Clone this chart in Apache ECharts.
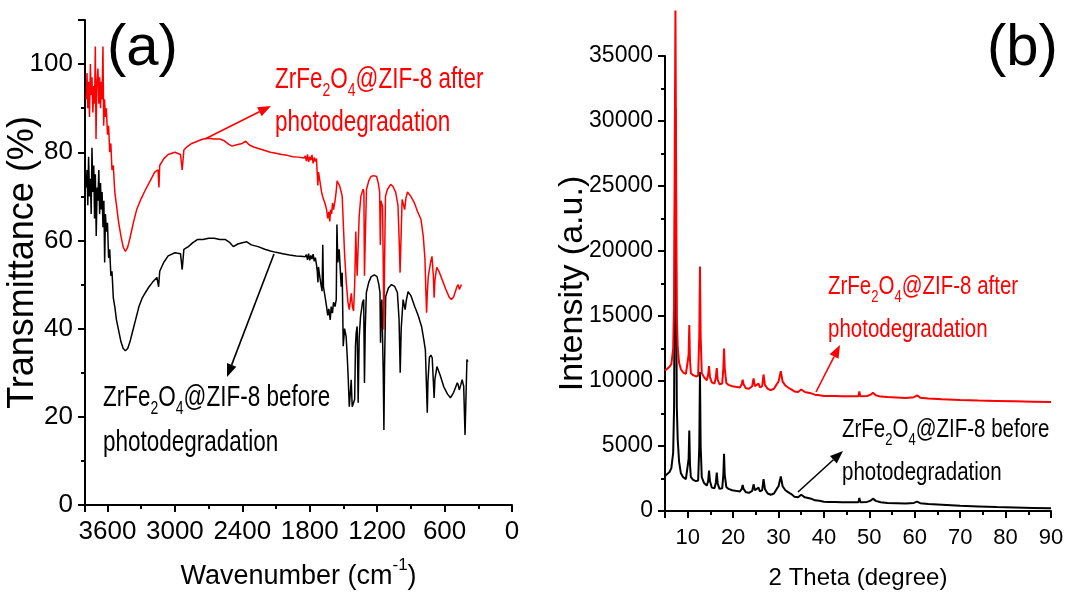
<!DOCTYPE html>
<html>
<head>
<meta charset="utf-8">
<script src="https://cdn.jsdelivr.net/npm/echarts@6/dist/echarts.min.js"></script>
<style>
html,body{margin:0;padding:0;background:#fff;}
#chart{width:1072px;height:595px;}
</style>
</head>
<body>
<div id="chart"></div>
<script>
// ---------------- DATA ----------------
// (a) FTIR – before photodegradation (black)
const ftirBeforeWn = [3790,3782,3775,3768,3760,3752,3745,3738,3730,3722,3715,3708,3700,3692,3685,3677,3670,3662,3655,3648,3640,3632,3625,3618,3610,3600,3590,3580,3570,3560,3548,3535,3520,3500,3480,3460,3440,3420,3400,3380,3350,3320,3290,3262,3230,3200,3160,3145,3135,3100,3060,3000,2950,2935,2920,2880,2840,2800,2750,2700,2650,2600,2550,2510,2480,2440,2400,2360,2320,2260,2200,2150,2100,2040,1980,1920,1880,1840,1830,1820,1810,1800,1790,1780,1770,1760,1750,1740,1733,1727,1722,1712,1700,1690,1684,1678,1662,1650,1640,1630,1618,1609,1598,1588,1575,1564,1558,1550,1538,1520,1511,1502,1490,1476,1465,1458,1448,1440,1431,1422,1410,1400,1393,1387,1378,1369,1360,1348,1330,1320,1313,1306,1296,1275,1253,1225,1201,1185,1175,1170,1164,1158,1146,1140,1134,1124,1100,1072,1045,1020,1005,995,986,969,951,940,925,900,866,835,805,785,771,760,754,748,735,722,710,700,693,686,668,640,607,575,548,520,487,478,469,455,444,430,418,410,401,392];
const ftirBeforeT = [72,76,68,79,70,74,66,81,71,77,65,75,61,72,69,76,66,73,67,71,63,69,55,66,62,64,56,58,52,53,47,45,42,39.5,37,35.5,35,35.5,37,39,42,45,47,48.2,49.5,50.5,51.6,49.5,53,55,56.5,57.2,57,53.4,58,58.6,59.5,60.2,60.2,60.5,60.5,60.2,60.2,59.5,58.6,59.2,59.5,59.7,59,58.6,58,57.6,57.3,57,56.7,56.5,56.4,56.3,56.8,55.6,57,55.5,56.6,55.8,56.9,55.3,56.1,54.5,53,50.5,54,52,50,48.5,59,49.5,47,45,43,44.5,42,45,43.5,46,45,46.6,63.6,55,58,49.5,52.7,36,40,38.2,33,29,22.3,25,28.4,22.3,22,24,36,39,40.5,23.2,38,42.7,46,46.6,27.7,40,48.2,50.5,51.8,52.2,51.8,50,48.2,36.8,45,46.6,30,17,32,47.3,49.2,50,49.6,48.2,42,30,40,46.6,44.3,46.5,48.4,47.5,45,43,40.5,37.5,35.2,26,20.9,28,33.5,34,33.4,28,24.3,28.5,31.4,29.5,26.8,25.2,24.3,25.5,27.7,27.2,26.1,27.3,28.4,27,15.9,24,33,32.5];

// (a) FTIR – after photodegradation (red)
const ftirAfterWn = [3790,3782,3775,3768,3760,3752,3745,3738,3730,3722,3715,3708,3702,3695,3685,3677,3670,3662,3655,3648,3640,3634,3626,3618,3610,3600,3590,3580,3570,3560,3548,3535,3520,3500,3480,3460,3440,3420,3400,3370,3340,3300,3262,3220,3180,3150,3142,3135,3100,3060,3000,2950,2935,2920,2890,2850,2800,2750,2700,2650,2600,2560,2520,2490,2450,2400,2370,2340,2300,2250,2200,2150,2100,2050,2000,1950,1900,1850,1840,1830,1820,1810,1800,1790,1780,1770,1760,1750,1740,1735,1728,1722,1710,1695,1680,1665,1650,1640,1630,1622,1614,1605,1597,1588,1575,1565,1556,1547,1535,1520,1511,1500,1490,1475,1460,1448,1440,1430,1420,1410,1400,1390,1384,1378,1370,1360,1345,1325,1318,1313,1306,1295,1275,1255,1230,1205,1190,1178,1172,1166,1152,1146,1140,1134,1126,1110,1080,1060,1035,1015,1004,996,988,978,965,955,945,930,900,870,840,810,790,775,766,760,754,745,725,712,700,693,686,670,650,620,590,560,540,520,504,490,478,469,458,450];
const ftirAfterT = [92,98,90,96,88,100,93,97,89,95,91,104,83,95,99,91,97,90,96,92,104,86,92,88,90,84,86,80,82,76,77,71,68,64,61,58.5,57.5,58.5,60.5,64,67,69.5,71.5,73.5,75.5,76,72,77,78.5,79.5,80,79.5,76,80.5,81.3,82,82.5,83,83.2,83,83,82.6,81.8,81.4,81.7,82,82.5,81.7,81.2,80.8,80.4,80,79.8,79.5,79.3,79,78.9,78.7,79.2,78,79.5,77.8,79,78.2,79.4,77.5,78.8,77.9,78.6,76,72.5,75.5,73.5,71,69.5,68.5,67,65,66.5,64.3,67,66,68.5,67,69,71,73.5,73,72.5,71,70,63,57,50.5,46,44.3,46,48,45,44,50,62,56,52,58,65.5,70,71.6,71,52,60,71.6,73.5,74.5,74.7,74.5,73,71,59,69,67.7,55,39.8,55,70,71.5,72.7,72.3,70.9,68,60,52.7,60,69.3,68,67,69.5,71,70,68.6,66.5,64.8,61,56,48,43.6,48,51.8,55,56.4,52,47,51,53.9,53,51,49,47.2,46.6,47.2,48.4,49.5,50,48.9,49.5,50];

// (b) XRD – shared 2-theta grid
const xrdAngle = [5.0,5.5,6.0,6.4,6.8,7.0,7.15,7.3,7.45,7.6,7.8,8.1,8.5,9.0,9.6,10.0,10.2,10.35,10.5,10.7,11.2,11.8,12.3,12.55,12.7,12.85,13.1,13.6,14.2,14.5,14.7,14.9,15.3,15.9,16.2,16.4,16.6,17.0,17.6,17.85,18.0,18.15,18.5,19.0,19.8,20.5,21.5,21.9,22.1,22.3,22.8,23.5,24.2,24.5,24.8,25.2,25.6,25.9,26.4,26.7,27.0,27.6,28.3,29.0,29.6,30.0,30.5,30.9,31.5,32.1,32.4,32.8,33.5,34.3,35.0,35.3,35.8,36.5,37.2,38,39,40,41,42.5,44,46,47.6,47.8,48.0,49.5,50.3,50.8,51.4,52.5,54,56,58,59.8,60.5,61.2,63,66,70,74,78,82,86,90];
const xrdBefore = [2700,2850,3000,3300,4500,8000,20000,31000,18000,8000,5500,3800,2900,2600,2450,2600,4000,6200,3600,2600,2400,2300,2350,5000,10700,5000,2600,2150,1950,2300,3100,2300,1800,1750,2200,2950,2100,1700,1750,2800,4400,2800,1850,1700,1600,1550,1500,1700,2000,1700,1450,1400,1550,2050,1600,1500,1800,1500,1600,2450,1700,1350,1250,1350,1700,1900,2650,1900,1600,1450,1600,1300,1100,1050,1250,1350,1050,1000,950,820,780,720,700,690,680,670,680,1000,680,700,800,950,780,680,620,600,570,620,720,600,540,480,400,350,300,270,240,210];
const xrdAfter = [10800,10950,11100,11300,12500,16000,28000,38500,26000,15000,12600,11400,10900,10650,10550,10700,12000,14300,11600,10600,10450,10350,10400,13500,18800,13500,10600,10300,10050,10500,11150,10300,9900,9800,10300,11000,10100,9750,9800,11000,12500,11000,9850,9700,9600,9550,9500,9750,10100,9750,9450,9400,9600,10200,9600,9500,9800,9500,9600,10500,9700,9400,9300,9400,9750,9950,10750,9950,9650,9500,9650,9350,9200,9150,9350,9450,9150,9100,9050,8950,8900,8850,8850,8850,8830,8820,8830,9200,8820,8850,8950,9100,8900,8800,8760,8740,8700,8750,8900,8720,8650,8600,8540,8500,8470,8440,8410,8380];

// labels
const panelLabels = ['(a)', '(b)'];
const sampleAfter = 'ZrFe2O4@ZIF-8 after';
const sampleBefore = 'ZrFe2O4@ZIF-8 before';
const secondLine = 'photodegradation';

// ---------------- STYLE ----------------
const FR = "'Liberation Sans',Arial,sans-serif";
const RED = '#ff0000', BLK = '#000000';
const STRETCH = 1.3;

function zip(a, b) { return a.map((v, i) => [v, b[i]]); }

function chemRich(size, color) {
  return {
    n: { fontSize: size, fontFamily: FR, fill: color, lineHeight: Math.round(size * 1.4) },
    s: { fontSize: Math.round(size * 0.62), fontFamily: FR, fill: color, lineHeight: Math.round(size * 0.62), verticalAlign: 'bottom' }
  };
}
function chemText(str) {
  return str.replace('ZrFe2O4', '{n|ZrFe}{s|2}{n|O}{s|4}{n|').concat('}');
}
function label(x, y, str, size, color, isChem) {
  return {
    type: 'text', x: x, y: y, scaleY: STRETCH, silent: true,
    style: {
      text: isChem ? chemText(str) : str,
      rich: isChem ? chemRich(size, color) : undefined,
      fontSize: size, fontFamily: FR, fill: color,
      align: 'left', verticalAlign: 'middle'
    }
  };
}
function arrow(x1, y1, x2, y2, color) {
  const a = Math.atan2(y2 - y1, x2 - x1);
  const L = 13, W = 5;
  const c = Math.cos(a), s = Math.sin(a);
  const bx = x2 - L * c, by = y2 - L * s;
  return [
    { type: 'line', silent: true, shape: { x1: x1, y1: y1, x2: bx, y2: by }, style: { stroke: color, lineWidth: 1.6 } },
    { type: 'polygon', silent: true, shape: { points: [[x2, y2], [bx + W * s, by - W * c], [bx - W * s, by + W * c]] }, style: { fill: color } }
  ];
}

function axisCommon(labelSize, margin, labelExtra) {
  return {
    nameMoveOverlap: false,
    axisLine: { show: true, onZero: false, lineStyle: { color: BLK, width: 2 } },
    axisTick: { show: true, inside: false, length: 7, lineStyle: { color: BLK, width: 2 } },
    minorTick: { show: true, splitNumber: 2, length: 4, lineStyle: { color: BLK, width: 2 } },
    splitLine: { show: false },
    axisLabel: Object.assign({ color: BLK, fontSize: labelSize, fontFamily: FR, margin: margin, formatter: v => String(v) }, labelExtra || {})
  };
}

const chart = echarts.init(document.getElementById('chart'), null, { renderer: 'canvas' });

const option = {
  animation: false,
  backgroundColor: '#ffffff',
  grid: [
    { left: 85, top: 20, width: 427, height: 485, containLabel: false, outerBoundsMode: 'none' },
    { left: 665, top: 56, width: 386, height: 455, containLabel: false, outerBoundsMode: 'none' }
  ],
  xAxis: [
    Object.assign(axisCommon(26, 14, { showMaxLabel: false }), {
      gridIndex: 0, type: 'value', min: 0, max: 3800, interval: 600, inverse: true,
      name: '{a|Wavenumber (cm}{s|-1}{a|)}', nameLocation: 'middle', nameGap: 52,
      nameTextStyle: { rich: {
        a: { fontSize: 27, fontFamily: FR, color: BLK, lineHeight: 40 },
        s: { fontSize: 17, fontFamily: FR, color: BLK, lineHeight: 17, verticalAlign: 'top' }
      } }
    }),
    Object.assign(axisCommon(22, 16, { showMinLabel: false }), {
      gridIndex: 1, type: 'value', min: 5, max: 90, minInterval: 10, maxInterval: 10,
      name: '2 Theta (degree)', nameLocation: 'middle', nameGap: 51,
      nameTextStyle: { fontSize: 24, fontFamily: FR, color: BLK, lineHeight: 32 }
    })
  ],
  yAxis: [
    Object.assign(axisCommon(26, 12, { showMaxLabel: false }), {
      gridIndex: 0, type: 'value', min: 0, max: 110, interval: 20,
      name: 'Transmittance (%)', nameLocation: 'middle', nameGap: 42,
      nameTextStyle: { fontSize: 36, fontFamily: FR, color: BLK, lineHeight: 40 }
    }),
    Object.assign(axisCommon(23, 12), {
      gridIndex: 1, type: 'value', min: 0, max: 35000, interval: 5000,
      name: 'Intensity (a.u.)', nameLocation: 'middle', nameGap: 72,
      nameTextStyle: { fontSize: 34, fontFamily: FR, color: BLK, lineHeight: 40 }
    })
  ],
  series: [
    { type: 'line', xAxisIndex: 0, yAxisIndex: 0, data: zip(ftirBeforeWn, ftirBeforeT), showSymbol: false, symbol: 'none', lineStyle: { color: BLK, width: 1.5 }, itemStyle: { color: BLK } },
    { type: 'line', xAxisIndex: 0, yAxisIndex: 0, data: zip(ftirAfterWn, ftirAfterT), showSymbol: false, symbol: 'none', lineStyle: { color: RED, width: 1.5 }, itemStyle: { color: RED } },
    { type: 'line', xAxisIndex: 1, yAxisIndex: 1, data: zip(xrdAngle, xrdBefore), showSymbol: false, symbol: 'none', clip: false, lineStyle: { color: BLK, width: 2 }, itemStyle: { color: BLK } },
    { type: 'line', xAxisIndex: 1, yAxisIndex: 1, data: zip(xrdAngle, xrdAfter), showSymbol: false, symbol: 'none', clip: false, lineStyle: { color: RED, width: 2 }, itemStyle: { color: RED } }
  ],
  graphic: [
    { type: 'text', x: 107, y: 49, silent: true, style: { text: panelLabels[0], fontSize: 58, fontFamily: FR, fill: BLK, align: 'left', verticalAlign: 'middle' } },
    { type: 'text', x: 987, y: 49, silent: true, style: { text: panelLabels[1], fontSize: 58, fontFamily: FR, fill: BLK, align: 'left', verticalAlign: 'middle' } },
    label(275, 80, sampleAfter, 22.5, RED, true),
    label(275, 123, secondLine, 22.5, RED, false),
    label(103, 398, sampleBefore, 22.5, BLK, true),
    label(103, 443, secondLine, 22.5, BLK, false),
    label(828, 287, sampleAfter, 20.5, RED, true),
    label(828, 330, secondLine, 20.5, RED, false),
    label(842, 430, sampleBefore, 20.5, BLK, true),
    label(842, 473, secondLine, 20.5, BLK, false)
  ].concat(
    arrow(205, 139, 271, 106, RED),
    arrow(274, 254, 227, 377, BLK),
    arrow(816, 392, 840, 345, RED),
    arrow(798, 492, 843, 451, BLK)
  )
};
chart.setOption(option);
</script>
</body>
</html>
